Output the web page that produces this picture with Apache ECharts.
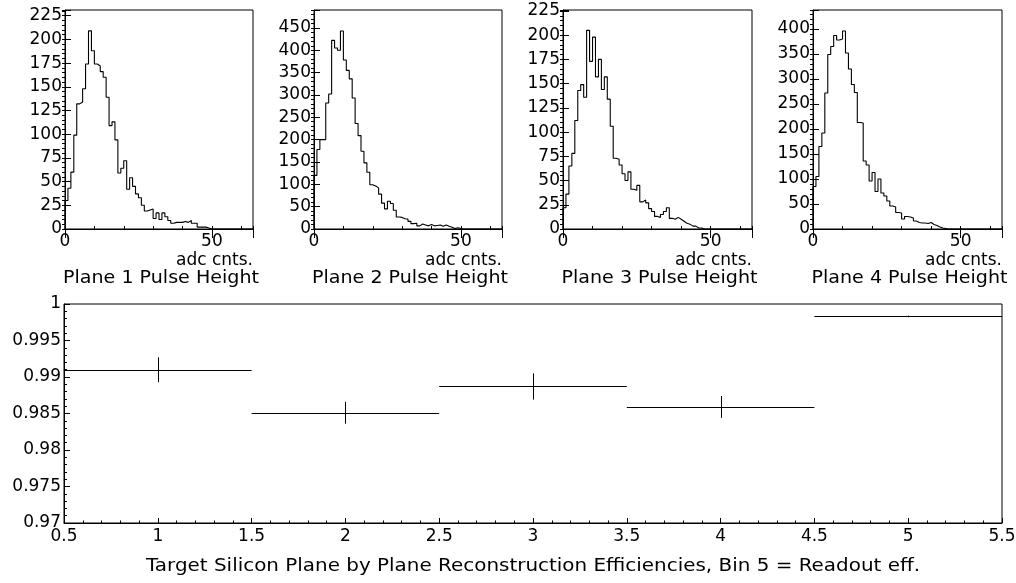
<!DOCTYPE html>
<html><head><meta charset="utf-8">
<script src="https://cdn.jsdelivr.net/npm/echarts@6/dist/echarts.min.js"></script>
<style>html,body{margin:0;padding:0;background:#fff}#c{width:1016px;height:583px}</style>
</head><body><div id="c"></div>
<script>
// ---- data: 64 bins of 1 adc count each ----
const plane1Counts = [30,43,60,99,132,134,148,174,209,188,174,172,166,160,139,109,113,94,59,64,72,42,54,45,37,33,25,19,20,21,11,17,10,17,13,9,6,7,7,7,8,7,9,6,6,2,2,2,1,0,0,0,0,0,0,0,0,0,0,0,0,0,0,0];
const plane2Counts = [120,178,200,200,282,302,422,405,400,443,378,355,336,293,236,209,174,148,127,99,96,92,78,58,45,62,57,42,27,26,23,22,17,12,13,7,11,9,7,10,7,8,9,6,9,6,4,1,3,1,0,0,0,0,0,0,0,0,0,0,0,0,0,0];
const plane3Counts = [22,36,65,78,112,143,149,136,205,173,198,157,175,144,157,134,106,73,72,66,57,50,59,41,40,45,28,30,27,21,18,13,12,15,18,22,11,10,12,10,8,6,5,3,3,1,1,0,0,0,0,0,0,0,0,0,0,0,0,0,0,0,0,0];
const plane4Counts = [85,105,165,192,272,349,365,387,378,380,396,352,320,289,273,213,212,136,128,96,113,75,100,72,66,56,46,44,33,32,20,25,24,22,16,13,12,12,11,13,9,7,4,2,1,0,0,0,0,0,0,0,0,0,0,0,0,0,0,0,0,0,0,0];
const histXMax = 64;
const histXLabelValues = [0, 50];
const histYMax = [231, 490, 226, 438];
const histYStep = [25, 50, 25, 50];
const histYMinorStep = [5, 10, 5, 10];
const planeTitles = ['Plane 1 Pulse Height', 'Plane 2 Pulse Height', 'Plane 3 Pulse Height', 'Plane 4 Pulse Height'];
const histXTitle = 'adc cnts.';

const effBins = [1, 2, 3, 4, 5];
const effValues = [0.9910, 0.9851, 0.9887, 0.9859, 0.9983];
const effErrors = [0.0017, 0.0015, 0.0018, 0.0015, 0.0001];
const effBinWidth = 1;
const effTitle = 'Target Silicon Plane by Plane Reconstruction Efficiencies, Bin 5 = Readout eff.';

// ---- layout / style ----
const FONT = 'DejaVu Sans';
const FS = 17;
const FONT_CSS = FS + 'px "' + FONT + '"';
const histGrids = [{left: 65, width: 188}, {left: 314, width: 188}, {left: 563, width: 189}, {left: 813, width: 189}];
const HT = 10, HH = 219;
const effGrid = {left: 64, top: 304, width: 938, height: 219};
const planeTitleWidth = 196, effTitleWidth = 774, xTitleWidth = 77;
const allCounts = [plane1Counts, plane2Counts, plane3Counts, plane4Counts];

const mctx = document.createElement('canvas').getContext('2d');
mctx.font = FONT_CSS;
const stretch = (txt, w) => w / mctx.measureText(txt).width;

const grid = [], xAxis = [], yAxis = [], series = [], graphic = [];
const lbl = {color: '#000', fontSize: FS, fontFamily: FONT};
const blk = {color: '#000', width: 1};

histGrids.forEach((g, i) => {
  grid.push({left: g.left, top: HT, width: g.width, height: HH, show: true, borderColor: '#000', borderWidth: 1, outerBoundsMode: 'none', containLabel: false});
  const xa = xAxis.length;
  xAxis.push({gridIndex: i, type: 'value', min: 0, max: histXMax, interval: 10,
    axisLine: {show: true, lineStyle: blk}, axisTick: {inside: true, length: 3, lineStyle: blk},
    axisLabel: Object.assign({margin: 4, formatter: v => histXLabelValues.includes(v) ? String(v) : ''}, lbl),
    splitLine: {show: false}});
  xAxis.push({gridIndex: i, type: 'value', min: 0, max: histXMax, interval: 50,
    axisLine: {show: false}, axisTick: {inside: true, length: 9, lineStyle: blk},
    axisLabel: {show: false}, splitLine: {show: false}});
  const ya = yAxis.length;
  const step = histYStep[i];
  yAxis.push({gridIndex: i, type: 'value', min: 0, max: histYMax[i], interval: step,
    axisLine: {show: true, lineStyle: blk}, axisTick: {inside: true, length: 6, lineStyle: blk},
    axisLabel: Object.assign({margin: 3, formatter: v => (v % step === 0 ? String(v) : '')}, lbl),
    splitLine: {show: false}});
  yAxis.push({gridIndex: i, type: 'value', min: 0, max: histYMax[i], interval: histYMinorStep[i],
    axisLine: {show: false}, axisTick: {inside: true, length: 3, lineStyle: blk},
    axisLabel: {show: false}, splitLine: {show: false}});
  const c = allCounts[i];
  const pts = [[0, 0]];
  c.forEach((v, k) => pts.push([k, v]));
  pts.push([c.length, c[c.length - 1]]);
  pts.push([c.length, 0]);
  series.push({type: 'line', xAxisIndex: xa, yAxisIndex: ya, data: pts, step: 'end',
    showSymbol: false, symbol: 'none', lineStyle: {color: '#000', width: 1.1}, silent: true, animation: false});
  graphic.push({type: 'text', x: g.left + g.width, y: 261, scaleX: stretch(histXTitle, xTitleWidth),
    style: {text: histXTitle, fill: '#000', font: FONT_CSS, textAlign: 'right', textVerticalAlign: 'middle'}});
  graphic.push({type: 'text', x: g.left + g.width / 2 + 2, y: 279, scaleX: stretch(planeTitles[i], planeTitleWidth),
    style: {text: planeTitles[i], fill: '#000', font: FONT_CSS, textAlign: 'center', textVerticalAlign: 'middle'}});
});

// efficiency plot
const gi = grid.length;
grid.push(Object.assign({show: true, borderColor: '#000', borderWidth: 1, outerBoundsMode: 'none', containLabel: false}, effGrid));
const ex = xAxis.length;
xAxis.push({gridIndex: gi, type: 'value', min: 0.5, max: 5.5, interval: 0.5,
  axisLine: {show: true, lineStyle: blk}, axisTick: {inside: true, length: 5, lineStyle: blk},
  minorTick: {show: true, splitNumber: 5, length: 2.5, lineStyle: blk},
  axisLabel: Object.assign({margin: 5}, lbl), splitLine: {show: false}, minorSplitLine: {show: false}});
const ey = yAxis.length;
yAxis.push({gridIndex: gi, type: 'value', min: 0.97, max: 1, interval: 0.005,
  axisLine: {show: true, lineStyle: blk}, axisTick: {inside: true, length: 6, lineStyle: blk},
  minorTick: {show: true, splitNumber: 5, length: 3, lineStyle: blk},
  axisLabel: Object.assign({margin: 3}, lbl), splitLine: {show: false}, minorSplitLine: {show: false}});
series.push({type: 'custom', xAxisIndex: ex, yAxisIndex: ey, silent: true, animation: false,
  data: effBins.map((b, i) => [b, effValues[i], effBinWidth / 2, effErrors[i]]),
  renderItem: (params, api) => {
    const x = api.value(0), y = api.value(1), hw = api.value(2), e = api.value(3);
    const l = api.coord([x - hw, y]), r = api.coord([x + hw, y]);
    const t = api.coord([x, y + e]), b = api.coord([x, y - e]);
    const yy = Math.round(l[1]) + 0.5, xx = Math.round(t[0]) + 0.5;
    return {type: 'group', children: [
      {type: 'line', shape: {x1: l[0], y1: yy, x2: r[0], y2: yy}, style: {stroke: '#000', lineWidth: 1}},
      {type: 'line', shape: {x1: xx, y1: t[1], x2: xx, y2: b[1]}, style: {stroke: '#000', lineWidth: 1}}
    ]};
  }});
graphic.push({type: 'text', x: effGrid.left + effGrid.width / 2, y: 567, scaleX: stretch(effTitle, effTitleWidth),
  style: {text: effTitle, fill: '#000', font: FONT_CSS, textAlign: 'center', textVerticalAlign: 'middle'}});

const chart = echarts.init(document.getElementById('c'), null, {renderer: 'canvas'});
chart.setOption({animation: false, backgroundColor: '#fff', grid, xAxis, yAxis, series, graphic});
</script></body></html>
